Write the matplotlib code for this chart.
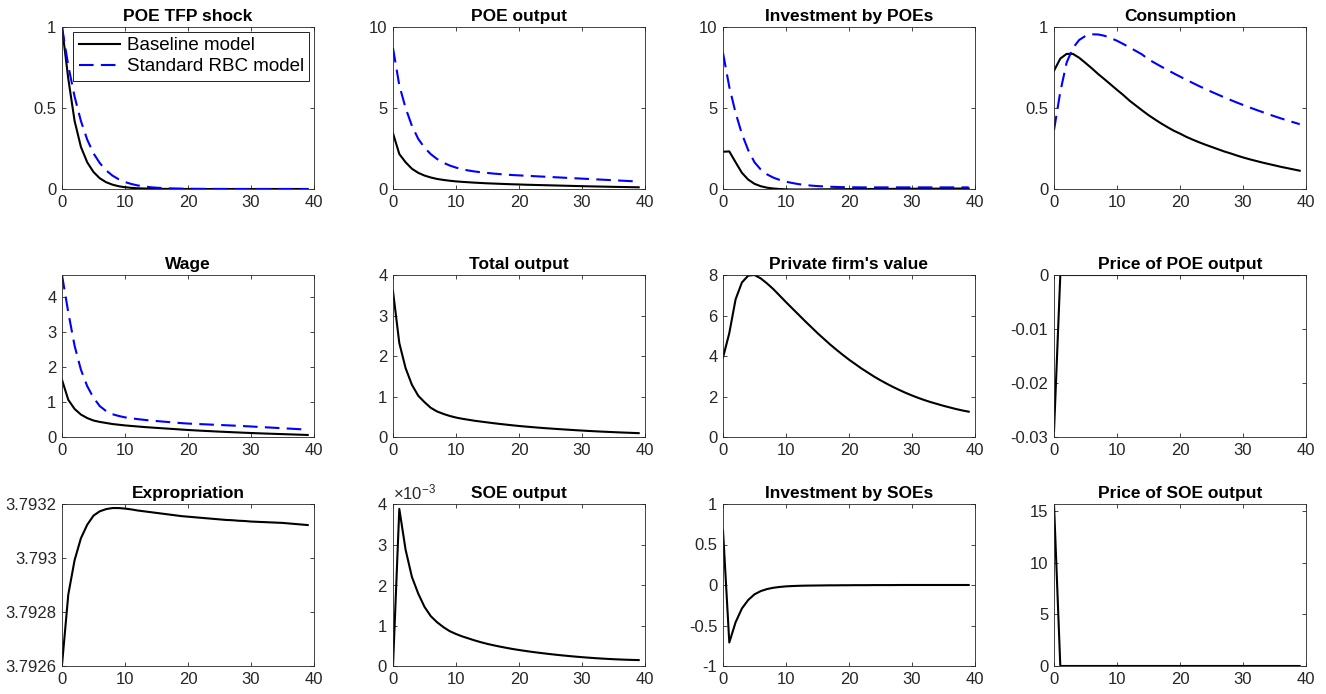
import numpy as np
import matplotlib
matplotlib.use('Agg')
import matplotlib.pyplot as plt
import matplotlib.ticker as ticker

plt.rcParams['font.family'] = ['Liberation Sans', 'DejaVu Sans']
plt.rcParams['axes.unicode_minus'] = False
plt.rcParams['mathtext.fontset'] = 'custom'
plt.rcParams['mathtext.rm'] = 'Liberation Sans'
plt.rcParams['mathtext.it'] = 'Liberation Sans:italic'
plt.rcParams['mathtext.bf'] = 'Liberation Sans:bold'

#HORIZON (QUARTERS AFTER SHOCK)
periods = np.arange(40)

#BASELINE MODEL IMPULSE RESPONSES
tfp_base = [1.0, 0.68, 0.42, 0.26, 0.165, 0.105, 0.066, 0.042, 0.027, 0.017,
            0.011, 0.007, 0.0045, 0.003, 0.002, 0.0012, 0.0008, 0.0005, 0.0003, 0.0002,
            0.0001, 0.0, 0.0, 0.0, 0.0, 0.0, 0.0, 0.0, 0.0, 0.0,
            0.0, 0.0, 0.0, 0.0, 0.0, 0.0, 0.0, 0.0, 0.0, 0.0]
poe_output_base = [3.44, 2.16, 1.65, 1.25, 1.0, 0.83, 0.71, 0.62, 0.56, 0.51,
                   0.47, 0.44, 0.415, 0.39, 0.37, 0.35, 0.335, 0.32, 0.305, 0.29,
                   0.28, 0.265, 0.255, 0.245, 0.235, 0.225, 0.215, 0.205, 0.195, 0.185,
                   0.175, 0.165, 0.157, 0.149, 0.141, 0.133, 0.126, 0.119, 0.112, 0.105]
inv_poe_base = [2.3, 2.32, 1.65, 1.0, 0.58, 0.32, 0.17, 0.08, 0.03, 0.0,
                -0.02, -0.03, -0.03, -0.03, -0.025, -0.02, -0.018, -0.015, -0.012, -0.01,
                -0.007, -0.005, -0.003, 0.0, 0.002, 0.004, 0.006, 0.008, 0.01, 0.012,
                0.014, 0.016, 0.018, 0.02, 0.022, 0.024, 0.026, 0.028, 0.03, 0.032]
consumption_base = [0.73, 0.805, 0.834, 0.834, 0.81, 0.778, 0.745, 0.71, 0.678, 0.645,
                    0.612, 0.58, 0.545, 0.515, 0.485, 0.456, 0.43, 0.405, 0.382, 0.36,
                    0.342, 0.322, 0.305, 0.289, 0.274, 0.26, 0.246, 0.232, 0.22, 0.207,
                    0.195, 0.184, 0.174, 0.164, 0.155, 0.146, 0.137, 0.129, 0.121, 0.113]
wage_base = [1.63, 1.06, 0.8, 0.64, 0.54, 0.47, 0.43, 0.4, 0.37, 0.35,
             0.33, 0.315, 0.3, 0.285, 0.272, 0.26, 0.248, 0.236, 0.224, 0.212,
             0.2, 0.19, 0.18, 0.171, 0.162, 0.153, 0.145, 0.137, 0.129, 0.121,
             0.114, 0.107, 0.1, 0.094, 0.088, 0.082, 0.076, 0.07, 0.064, 0.058]
total_output = [3.6, 2.32, 1.7, 1.29, 1.02, 0.86, 0.72, 0.63, 0.57, 0.52,
                0.48, 0.45, 0.425, 0.4, 0.38, 0.36, 0.34, 0.322, 0.305, 0.288,
                0.272, 0.258, 0.245, 0.232, 0.22, 0.209, 0.198, 0.188, 0.178, 0.168,
                0.159, 0.15, 0.142, 0.134, 0.127, 0.12, 0.113, 0.107, 0.101, 0.095]
firm_value = [3.92, 5.13, 6.8, 7.63, 7.97, 8.0, 7.83, 7.58, 7.3, 6.98,
              6.66, 6.35, 6.04, 5.73, 5.43, 5.13, 4.85, 4.57, 4.31, 4.06,
              3.82, 3.6, 3.38, 3.18, 2.98, 2.8, 2.63, 2.47, 2.32, 2.18,
              2.05, 1.93, 1.82, 1.72, 1.63, 1.54, 1.46, 1.38, 1.31, 1.25]
price_poe = [-0.029, 0.0, 0.0, 0.0, 0.0, 0.0, 0.0, 0.0, 0.0, 0.0,
             0.0, 0.0, 0.0, 0.0, 0.0, 0.0, 0.0, 0.0, 0.0, 0.0,
             0.0, 0.0, 0.0, 0.0, 0.0, 0.0, 0.0, 0.0, 0.0, 0.0,
             0.0, 0.0, 0.0, 0.0, 0.0, 0.0, 0.0, 0.0, 0.0, 0.0]
expropriation = [3.792604, 3.792865, 3.792992, 3.793073, 3.793123, 3.793157, 3.793173, 3.793181, 3.793185, 3.793185,
                 3.793183, 3.793180, 3.793176, 3.793173, 3.793170, 3.793167, 3.793164, 3.793161, 3.793158, 3.793155,
                 3.793153, 3.793151, 3.793149, 3.793147, 3.793145, 3.793143, 3.793141, 3.793140, 3.793138, 3.793137,
                 3.793135, 3.793134, 3.793133, 3.793132, 3.793131, 3.793130, 3.793128, 3.793126, 3.793124, 3.793122]
soe_output_e3 = [0.0, 3.88, 2.87, 2.2, 1.79, 1.46, 1.23, 1.08, 0.96, 0.86,
                 0.79, 0.73, 0.68, 0.63, 0.585, 0.545, 0.51, 0.478, 0.448, 0.42,
                 0.395, 0.372, 0.35, 0.33, 0.311, 0.293, 0.276, 0.26, 0.245, 0.231,
                 0.218, 0.206, 0.195, 0.185, 0.176, 0.168, 0.161, 0.155, 0.15, 0.146]
inv_soe = [0.675, -0.71, -0.46, -0.29, -0.185, -0.115, -0.075, -0.05, -0.034, -0.024,
           -0.017, -0.013, -0.01, -0.008, -0.007, -0.006, -0.005, -0.004, -0.004, -0.003,
           -0.003, -0.002, -0.002, -0.002, -0.001, -0.001, -0.001, -0.001, 0.0, 0.0,
           0.0, 0.0, 0.0, 0.0, 0.0, 0.0, 0.0, 0.0, 0.0, 0.0]
price_soe = [15.7, 0.0, 0.0, 0.0, 0.0, 0.0, 0.0, 0.0, 0.0, 0.0,
             0.0, 0.0, 0.0, 0.0, 0.0, 0.0, 0.0, 0.0, 0.0, 0.0,
             0.0, 0.0, 0.0, 0.0, 0.0, 0.0, 0.0, 0.0, 0.0, 0.0,
             0.0, 0.0, 0.0, 0.0, 0.0, 0.0, 0.0, 0.0, 0.0, 0.0]

#STANDARD RBC MODEL IMPULSE RESPONSES
tfp_rbc = [1.0, 0.76, 0.57, 0.42, 0.305, 0.22, 0.16, 0.115, 0.083, 0.06,
           0.043, 0.031, 0.022, 0.016, 0.011, 0.008, 0.006, 0.004, 0.003, 0.002,
           0.0015, 0.001, 0.0007, 0.0005, 0.0004, 0.0003, 0.0002, 0.0001, 0.0, 0.0,
           0.0, 0.0, 0.0, 0.0, 0.0, 0.0, 0.0, 0.0, 0.0, 0.0]
poe_output_rbc = [8.7, 6.4, 5.0, 3.9, 3.1, 2.55, 2.15, 1.85, 1.62, 1.45,
                  1.32, 1.22, 1.14, 1.08, 1.03, 0.99, 0.95, 0.92, 0.89, 0.86,
                  0.84, 0.82, 0.8, 0.78, 0.76, 0.74, 0.72, 0.7, 0.68, 0.66,
                  0.64, 0.62, 0.6, 0.58, 0.56, 0.54, 0.52, 0.5, 0.48, 0.46]
inv_poe_rbc = [8.4, 6.3, 4.7, 3.4, 2.4, 1.65, 1.2, 0.9, 0.7, 0.56,
               0.45, 0.37, 0.3, 0.25, 0.21, 0.18, 0.16, 0.14, 0.125, 0.115,
               0.11, 0.105, 0.1, 0.1, 0.1, 0.1, 0.1, 0.1, 0.1, 0.1,
               0.1, 0.1, 0.1, 0.1, 0.1, 0.1, 0.1, 0.1, 0.1, 0.1]
consumption_rbc = [0.363, 0.6, 0.78, 0.87, 0.92, 0.945, 0.955, 0.954, 0.946, 0.932,
                   0.915, 0.895, 0.874, 0.852, 0.83, 0.8, 0.778, 0.756, 0.735, 0.714,
                   0.694, 0.674, 0.655, 0.636, 0.618, 0.6, 0.583, 0.566, 0.55, 0.534,
                   0.519, 0.504, 0.49, 0.476, 0.462, 0.449, 0.436, 0.424, 0.412, 0.4]
wage_rbc = [4.62, 3.55, 2.6, 1.92, 1.45, 1.12, 0.88, 0.74, 0.65, 0.6,
            0.56, 0.535, 0.51, 0.49, 0.47, 0.455, 0.44, 0.425, 0.41, 0.395,
            0.383, 0.375, 0.367, 0.359, 0.351, 0.343, 0.335, 0.327, 0.318, 0.309,
            0.3, 0.29, 0.28, 0.27, 0.26, 0.25, 0.24, 0.23, 0.22, 0.21]

soe_output = np.array(soe_output_e3) * 1e-3

#PANEL SPECS: title, baseline, rbc, ylim, yticks
panels = [
    ("POE TFP shock", tfp_base, tfp_rbc, (0, 1), [0, 0.5, 1]),
    ("POE output", poe_output_base, poe_output_rbc, (0, 10), [0, 5, 10]),
    ("Investment by POEs", inv_poe_base, inv_poe_rbc, (0, 10), [0, 5, 10]),
    ("Consumption", consumption_base, consumption_rbc, (0, 1), [0, 0.5, 1]),
    ("Wage", wage_base, wage_rbc, (0, max(wage_rbc)), [0, 1, 2, 3, 4]),
    ("Total output", total_output, None, (0, 4), [0, 1, 2, 3, 4]),
    ("Private firm's value", firm_value, None, (0, 8), [0, 2, 4, 6, 8]),
    ("Price of POE output", price_poe, None, (-0.03, 0), [-0.03, -0.02, -0.01, 0]),
    ("Expropriation", expropriation, None, (3.7926, 3.7932), [3.7926, 3.7928, 3.793, 3.7932]),
    ("SOE output", soe_output, None, (0, 0.004), [0, 0.001, 0.002, 0.003, 0.004]),
    ("Investment by SOEs", inv_soe, None, (-1, 1), [-1, -0.5, 0, 0.5, 1]),
    ("Price of SOE output", price_soe, None, (0, max(price_soe)), [0, 5, 10, 15]),
]

#LAYOUT (PIXELS OF A 1326x694 CANVAS)
W, H = 1326, 694
lefts = [62, 393, 723, 1054]
tops = [27, 275, 504]
ax_w, ax_h = 252, 162

fig = plt.figure(figsize=(W / 100, H / 100), dpi=100)
axes = []
for i, (title, base, rbc, ylim, yticks) in enumerate(panels):
    r, c = divmod(i, 4)
    ax = fig.add_axes([lefts[c] / W, 1 - (tops[r] + ax_h) / H, ax_w / W, ax_h / H])
    ax.plot(periods, base, color='k', lw=1.5, label='Baseline model')
    if rbc is not None:
        ax.plot(periods, rbc, color=(0, 0, 1), lw=1.5, ls=(0, (7, 3.5)), label='Standard RBC model')
    ax.set_xlim(0, 40)
    ax.set_ylim(*ylim)
    ax.set_xticks([0, 10, 20, 30, 40])
    ax.set_yticks(yticks)
    if title == "SOE output":
        fmt = ticker.ScalarFormatter(useMathText=True)
        fmt.set_powerlimits((0, 0))
        ax.yaxis.set_major_formatter(fmt)
        ax.yaxis.get_offset_text().set_fontsize(12)
        ax.yaxis.get_offset_text().set_color('0.15')
    else:
        ax.yaxis.set_major_formatter(ticker.FuncFormatter(lambda v, p: f"{v:g}"))
    ax.xaxis.set_major_formatter(ticker.FuncFormatter(lambda v, p: f"{v:g}"))
    ax.tick_params(direction='in', length=3, width=0.6, top=True, right=True,
                   labelsize=12, colors='0.15', pad=4)
    for s in ax.spines.values():
        s.set_linewidth(0.6)
        s.set_color('0.15')
    ax.set_title(title, fontsize=12.5, fontweight='bold', pad=4)
    axes.append(ax)

#LEGEND ON FIRST PANEL
leg = axes[0].legend(loc='upper right', fontsize=13.5, frameon=True, fancybox=False,
                     edgecolor='k', framealpha=1, borderaxespad=0.25, handlelength=2.2,
                     handletextpad=0.35, borderpad=0.3, labelspacing=0.2)
leg.get_frame().set_linewidth(0.6)

fig.savefig('out.png', dpi=100)
